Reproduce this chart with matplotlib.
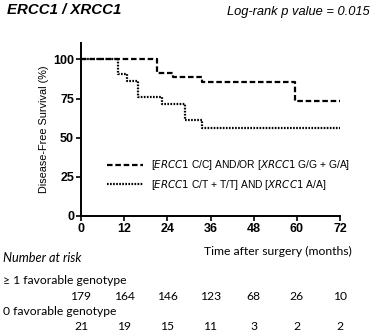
import matplotlib
matplotlib.use("Agg")
import matplotlib.pyplot as plt

# Kaplan-Meier Kurven
t_fav = [0, 21.2, 25.5, 33.5, 59.5, 72]
s_fav = [100, 91.6, 89, 85.8, 73.5, 73.5]
t_unfav = [0, 10.3, 12.7, 15.9, 22.4, 28.9, 33.6, 72]
s_unfav = [100, 90.5, 86, 76, 71.5, 61, 56.4, 56.4]

xticks = [0, 12, 24, 36, 48, 60, 72]
yticks = [0, 25, 50, 75, 100]
risk_fav = [179, 164, 146, 123, 68, 26, 10]
risk_unfav = [21, 19, 15, 11, 3, 2, 2]

plt.rcParams['font.family'] = ['Liberation Sans', 'DejaVu Sans']
plt.rcParams['lines.scale_dashes'] = False

fig = plt.figure(figsize=(3.72, 3.33), dpi=100)
ax = fig.add_axes([81/372, 1-216/333, 259/372, 173/333])

ax.step(t_fav, s_fav, where='post', color='black', lw=1.6, linestyle=(0, (4, 2)),
        label='[$\\it{ERCC1}$ C/C] AND/OR [$\\it{XRCC1}$ G/G + G/A]')
ax.step(t_unfav, s_unfav, where='post', color='black', lw=1.6, linestyle=(0, (1.2, 1)),
        label='[$\\it{ERCC1}$ C/T + T/T] AND [$\\it{XRCC1}$ A/A]')

ax.set_xlim(0, 72)
ax.set_ylim(0, 110.5)
ax.set_xticks(xticks)
ax.set_yticks(yticks)
ax.tick_params(labelsize=9, width=1.2, length=3.5, direction='out', pad=1.5)
for lab in ax.get_xticklabels() + ax.get_yticklabels():
    lab.set_fontweight('bold')
for s in ['top', 'right']:
    ax.spines[s].set_visible(False)
for s in ['left', 'bottom']:
    ax.spines[s].set_linewidth(1.4)
ax.set_ylabel('Disease-Free Survival (%)', fontsize=7.8, labelpad=3)

ax.legend(loc='lower left', bbox_to_anchor=(0.08, 0.11), frameon=False, fontsize=7.4,
          handlelength=3.5, handletextpad=0.75, labelspacing=0.55, borderpad=0)

# Titel
fig.text(7/372, 1-14.5/333, 'ERCC1 / XRCC1', fontsize=10.8, fontweight='bold', style='italic',
         va='baseline', ha='left')
fig.text(370/372, 1-14.5/333, 'Log-rank p value = 0.015', fontsize=9.3, style='italic',
         va='baseline', ha='right')

# Number at risk Tabelle
bf = ['Lato', 'DejaVu Sans']
fs = 8.7
fig.text(352/372, 1-255/333, 'Time after surgery (months)', fontsize=fs, family=bf,
         ha='right', va='baseline')
fig.text(3/372, 1-262.5/333, 'Number at risk', fontsize=9.2, family=bf, style='italic',
         ha='left', va='baseline')
fig.text(3/372, 1-284/333, '\u2265 1 favorable genotype', fontsize=fs, family=bf,
         ha='left', va='baseline')
fig.text(3/372, 1-315/333, '0 favorable genotype', fontsize=fs, family=bf,
         ha='left', va='baseline')
for x, a, b in zip(xticks, risk_fav, risk_unfav):
    ax.annotate(str(a), xy=(x, 0), xycoords=('data', 'axes fraction'),
                xytext=(0, 1-300/333), textcoords=('offset points', 'figure fraction'),
                ha='center', va='baseline', fontsize=fs, family=bf)
    ax.annotate(str(b), xy=(x, 0), xycoords=('data', 'axes fraction'),
                xytext=(0, 1-330.5/333), textcoords=('offset points', 'figure fraction'),
                ha='center', va='baseline', fontsize=fs, family=bf)

fig.savefig('out.png', dpi=100)
